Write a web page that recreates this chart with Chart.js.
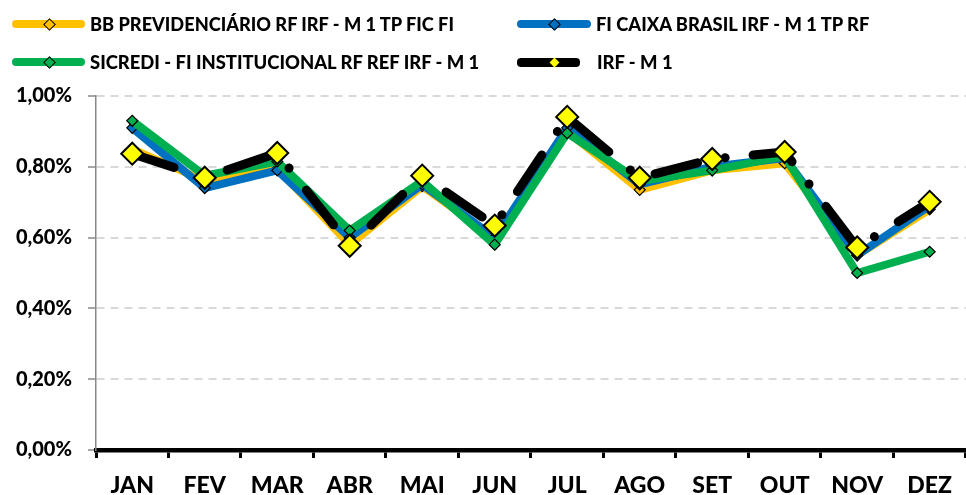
<!DOCTYPE html>
<html>
<head>
<meta charset="utf-8">
<script src="https://cdn.jsdelivr.net/npm/chart.js@4"></script>
<style>
  body { margin: 0; background: #fff; }
  #wrap { position: relative; width: 966px; height: 495px; }
  #legend { position: absolute; left: 0; top: 0; width: 966px; height: 85px;
            font-family: Lato, sans-serif; font-weight: 900; font-size: 18px; color: #000; }
  .item { position: absolute; height: 24px; line-height: 24px; white-space: nowrap; }
  .swatch { position: absolute; top: 8px; height: 8px; border-radius: 4px; }
  .dia { position: absolute; transform: rotate(45deg); border: 1.5px solid #000; box-sizing: border-box; }
  .txt { position: absolute; top: 0; transform-origin: 0 50%; }
  canvas { position: absolute; left: 0; top: 0; }
</style>
</head>
<body>
<div id="wrap">
  <canvas id="chart" width="966" height="495"></canvas>
  <div id="legend"></div>
</div>
<script>
var months = ["JAN", "FEV", "MAR", "ABR", "MAI", "JUN", "JUL", "AGO", "SET", "OUT", "NOV", "DEZ"];
var seriesNames = ["BB PREVIDENCIÁRIO RF IRF - M 1 TP FIC FI", "FI CAIXA BRASIL IRF - M 1 TP RF",
                   "SICREDI - FI INSTITUCIONAL RF REF IRF - M 1", "IRF - M 1"];
var bbValues      = [0.85, 0.76, 0.795, 0.58, 0.745, 0.60, 0.90, 0.735, 0.79, 0.81, 0.55, 0.68];
var caixaValues   = [0.91, 0.74, 0.79, 0.60, 0.75, 0.60, 0.91, 0.75, 0.80, 0.825, 0.55, 0.69];
var sicrediValues = [0.93, 0.775, 0.815, 0.62, 0.76, 0.58, 0.895, 0.76, 0.79, 0.83, 0.50, 0.56];
var irfValues     = [0.837, 0.769, 0.839, 0.577, 0.775, 0.634, 0.941, 0.769, 0.822, 0.842, 0.572, 0.701];
var yTicks = [0, 0.2, 0.4, 0.6, 0.8, 1.0];

var colors = ["#ffc000", "#0070c0", "#00b050", "#000000"];

/* legend drawn as html: [swatch left, row top, swatch length, text left, text width] */
var legendPos = [[12, 12, 73, 90, 366], [517, 12, 74, 596, 276], [12, 50, 73, 90, 391], [517, 50, 63, 597, 76]];
var legend = document.getElementById('legend');
var mctx = document.createElement('canvas').getContext('2d');
mctx.font = '900 18px Lato';
seriesNames.forEach(function (name, i) {
    var p = legendPos[i];
    var el = document.createElement('div');
    el.className = 'item';
    el.style.left = p[0] + 'px';
    el.style.top = p[1] + 'px';
    var isIrf = i === 3;
    var d = isIrf ? 7 : 9;
    var sx = p[4] / mctx.measureText(name).width;
    el.innerHTML = '<span class="swatch" style="left:0;width:' + p[2] + 'px;' + (isIrf ? 'height:9px;top:7.5px;' : '') + 'background:' + colors[i] + '"></span>' +
        '<span class="dia" style="left:' + (37 - d / 2) + 'px;top:' + (12 - d / 2) + 'px;width:' + d + 'px;height:' + d + 'px;' +
        (isIrf ? 'border:none;' : '') + 'background:' + (isIrf ? '#ffff00' : colors[i]) + '"></span>' +
        '<span class="txt" style="left:' + (p[3] - p[0]) + 'px;transform:scaleX(' + sx.toFixed(3) + ')">' + name + '</span>';
    legend.appendChild(el);
});

var ctx = document.getElementById('chart').getContext('2d');
var chart = new Chart(ctx, {
    type: 'line',
    data: {
        labels: months,
        datasets: [{
            label: seriesNames[0], data: bbValues, order: 3,
            borderColor: colors[0], backgroundColor: colors[0], borderWidth: 8,
            pointStyle: 'rectRot', pointRadius: 5.5, pointBorderColor: '#000', pointBorderWidth: 1.2,
            pointBackgroundColor: colors[0]
        }, {
            label: seriesNames[1], data: caixaValues, order: 2,
            borderColor: colors[1], backgroundColor: colors[1], borderWidth: 8,
            pointStyle: 'rectRot', pointRadius: 5.5, pointBorderColor: '#000', pointBorderWidth: 1.2,
            pointBackgroundColor: colors[1]
        }, {
            label: seriesNames[2], data: sicrediValues, order: 1,
            borderColor: colors[2], backgroundColor: colors[2], borderWidth: 8,
            pointStyle: 'rectRot', pointRadius: 5.5, pointBorderColor: '#000', pointBorderWidth: 1.2,
            pointBackgroundColor: colors[2]
        }, {
            label: seriesNames[3], data: irfValues, order: 0,
            borderColor: colors[3], backgroundColor: '#ffff00', borderWidth: 9,
            borderDash: [44, 28, 0.1, 28], borderCapStyle: 'round',
            pointStyle: 'rectRot', pointRadius: 11, pointBorderColor: '#000', pointBorderWidth: 2,
            pointBackgroundColor: '#ffff00'
        }]
    },
    options: {
        responsive: false,
        animation: false,
        layout: { autoPadding: false, padding: { top: 96, right: 0, left: 0, bottom: 0 } },
        plugins: { legend: { display: false }, tooltip: { enabled: false } },
        elements: { line: { tension: 0 } },
        scales: {
            x: {
                offset: true,
                afterFit: function (s) { s.height = 45; },
                grid: { offset: true, drawOnChartArea: false, drawTicks: true, tickLength: 8, color: '#000', lineWidth: 3 },
                border: { color: '#000', width: 4.5 },
                ticks: { color: '#000', font: { family: "Lato", size: 23, weight: '900' }, padding: 14, maxRotation: 0 }
            },
            y: {
                min: 0, max: 1,
                afterFit: function (s) { s.width = 96; },
                afterBuildTicks: function (s) { s.ticks = yTicks.map(function (v) { return { value: v }; }); },
                grid: { color: '#d9d9d9', lineWidth: 2, drawTicks: true, tickLength: 8, tickColor: '#888', tickWidth: 1.5, tickBorderDash: [] },
                border: { color: '#888', width: 1.5, dash: [8, 6] },
                ticks: {
                    color: '#000', padding: 16,
                    font: { family: "Lato", size: 20, weight: '900' },
                    callback: function (v) { return v.toFixed(2).replace('.', ',') + '%'; }
                }
            }
        }
    }
});
</script>
</body>
</html>
